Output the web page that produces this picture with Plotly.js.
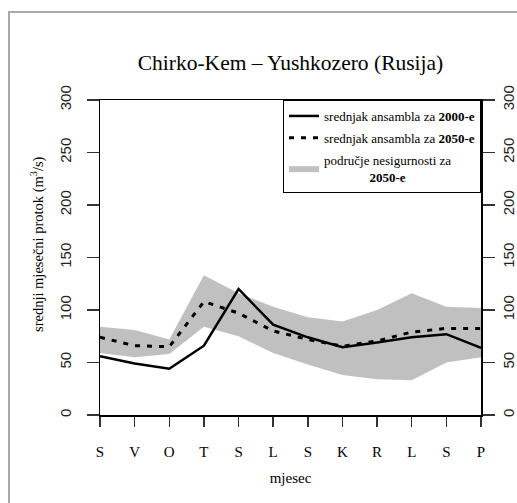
<!DOCTYPE html>
<html>
<head>
<meta charset="utf-8">
<script src="https://cdn.plot.ly/plotly-3.0.1.min.js"></script>
<style>
  html, body { margin: 0; padding: 0; background: #ffffff; }
  #wrap { position: relative; width: 517px; height: 503px; overflow: hidden; }
  #chart { position: absolute; left: 0; top: 0; width: 517px; height: 503px; }
  #frame { position: absolute; left: 8px; top: 11px; width: 600px; height: 600px;
           border-left: 2px solid #a8a8a8; border-top: 2px solid #a8a8a8; pointer-events: none; }
</style>
</head>
<body>
<div id="wrap">
  <div id="chart"></div>
  <div id="frame"></div>
</div>
<script>
// Month labels (Croatian initials, Sep -> Aug)
const monthLabels = ['S', 'V', 'O', 'T', 'S', 'L', 'S', 'K', 'R', 'L', 'S', 'P'];
// Ensemble mean 2000s (m3/s)
const mean2000 = [56, 49, 44, 66, 120, 86, 74, 64.5, 69, 74, 77, 64];
// Ensemble mean 2050s (m3/s)
const mean2050 = [74, 66, 65, 108, 97, 80, 72, 65.5, 70.5, 79, 82.5, 82.5];
// Uncertainty band 2050s
const bandUpper = [84, 81, 72, 133, 116, 103, 93, 89, 100, 116, 103, 102];
const bandLower = [59, 55, 58, 84, 75, 59, 48, 38, 34, 33, 50, 55];
// Y tick values
const yTicks = [0, 50, 100, 150, 200, 250, 300];

const monthIndex = monthLabels.map((_, i) => i);

const serif = '"Liberation Serif", "Times New Roman", serif';
const sans = '"Liberation Sans", Arial, sans-serif';

const traces = [
  {
    x: monthIndex, y: bandUpper, type: 'scatter', mode: 'lines',
    line: { width: 0, color: '#c0c0c0' }, showlegend: false, hoverinfo: 'skip',
    legendgroup: 'band'
  },
  {
    x: monthIndex, y: bandLower, type: 'scatter', mode: 'lines',
    fill: 'tonexty', fillcolor: '#c0c0c0',
    line: { width: 0, color: '#c0c0c0' },
    name: 'područje nesigurnosti za<br>\u00a0\u00a0\u00a0\u00a0\u00a0\u00a0\u00a0\u00a0\u00a0\u00a0\u00a0\u00a0\u00a0\u00a0<b>2050-e</b>',
    legendgroup: 'band', legendrank: 3
  },
  {
    x: monthIndex, y: mean2050, type: 'scatter', mode: 'lines',
    line: { color: '#000000', width: 3, dash: '5px,7px' },
    name: 'srednjak ansambla za <b>2050-e</b>',
    legendgroup: 'm2050', legendrank: 2
  },
  {
    x: monthIndex, y: mean2000, type: 'scatter', mode: 'lines',
    line: { color: '#000000', width: 2.5 },
    name: 'srednjak ansambla za <b>2000-e</b>',
    legendgroup: 'm2000', legendrank: 1
  },
  {
    x: monthIndex, y: mean2000, type: 'scatter', mode: 'lines', yaxis: 'y2',
    line: { width: 0 }, showlegend: false, hoverinfo: 'skip', opacity: 0
  }
];

const layout = {
  width: 517, height: 503,
  margin: { l: 100, r: 36, t: 100, b: 88 },
  paper_bgcolor: 'rgba(0,0,0,0)',
  plot_bgcolor: '#ffffff',
  showlegend: true,
  title: {
    text: 'Chirko-Kem – Yushkozero (Rusija)',
    font: { family: serif, size: 21.5, color: '#000000' },
    x: 0.5, xref: 'paper', xanchor: 'center',
    y: 1 - 62 / 503, yref: 'container', yanchor: 'middle'
  },
  xaxis: {
    range: [0, 11], tickmode: 'array', tickvals: monthIndex, ticktext: monthLabels,
    showgrid: false, zeroline: false, showline: true, linecolor: '#000000', linewidth: 1.5,
    mirror: true,
    ticks: 'outside', ticklen: 10, tickwidth: 1.5, tickcolor: '#333333',
    tickfont: { family: serif, size: 15, color: '#000000' },
    ticklabelstandoff: 12,
    title: { text: 'mjesec', font: { family: serif, size: 15, color: '#000000' }, standoff: 14 }
  },
  yaxis: {
    range: [0, 300], tickmode: 'array', tickvals: yTicks,
    showgrid: false, zeroline: false, showline: true, linecolor: '#000000', linewidth: 1.5,
    ticks: 'outside', ticklen: 12, tickwidth: 1.5, tickcolor: '#333333',
    tickangle: -90,
    tickfont: { family: sans, size: 15, color: '#222222' },
    ticklabelstandoff: 10
  },
  yaxis2: {
    range: [0, 300], tickmode: 'array', tickvals: yTicks,
    overlaying: 'y', side: 'right',
    showgrid: false, zeroline: false, showline: true, linecolor: '#000000', linewidth: 1.5,
    ticks: 'outside', ticklen: 12, tickwidth: 1.5, tickcolor: '#333333',
    tickangle: -90,
    tickfont: { family: sans, size: 15, color: '#222222' },
    ticklabelstandoff: 1
  },
  annotations: [
    {
      text: 'srednji mjesečni protok (m<sup>3</sup>/s)',
      font: { family: serif, size: 14.5, color: '#000000' },
      textangle: -90, showarrow: false,
      xref: 'paper', x: (37 - 100) / 381, xanchor: 'center',
      yref: 'paper', y: (415 - 244) / 315, yanchor: 'middle'
    }
  ],
  legend: {
    x: 1, xanchor: 'right', xref: 'paper',
    y: 1, yanchor: 'top', yref: 'paper',
    traceorder: 'grouped',
    bgcolor: '#ffffff', bordercolor: '#000000', borderwidth: 1,
    font: { family: serif, size: 13, color: '#000000' },
    tracegroupgap: 2, itemwidth: 30
  }
};

Plotly.newPlot('chart', traces, layout, { staticPlot: true, displayModeBar: false });
</script>
</body>
</html>
